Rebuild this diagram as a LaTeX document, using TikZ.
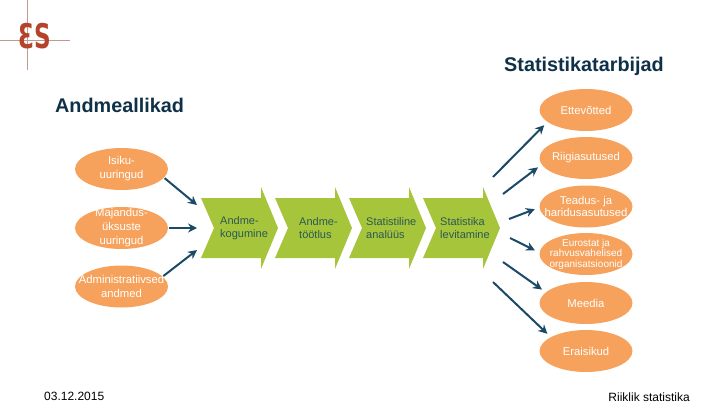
\documentclass[tikz,border=0pt]{standalone}
\usepackage{xcolor}
\usepackage{fontspec}
\usepackage{tikz}
\setmainfont{Liberation Sans}
\newfontfamily\logofont{DejaVu Sans}
\usetikzlibrary{shapes.geometric, arrows.meta, positioning}
\definecolor{peach}{HTML}{F6A25C}
\definecolor{leaf}{HTML}{A6C53B}
\definecolor{inkblue}{HTML}{1B4A66}
\definecolor{headblue}{HTML}{0F3148}
\definecolor{chevtext}{HTML}{2A5A55}
\definecolor{logored}{HTML}{B5432B}
\definecolor{logoline}{HTML}{C09A8C}

\begin{document}
\begin{tikzpicture}[
    x=1pt, y=-1pt,
    oval/.style     = {ellipse, fill=peach, inner sep=0pt, minimum width=93pt, minimum height=42pt},
    srcoval/.style  = {oval, outer sep=1pt},
    useoval/.style  = {oval, outer sep=5pt},
    ovaltxt/.style  = {text=white, align=center, font=\fontsize{11.3}{14}\selectfont, inner sep=0pt},
    smalltxt/.style = {ovaltxt, font=\fontsize{10}{10.5}\selectfont},
    chevtxt/.style  = {anchor=west, text=chevtext, align=left, inner sep=0pt,
                       font=\fontsize{11}{13}\selectfont},
    head/.style     = {inner sep=0pt, anchor=base west, text=headblue,
                       font=\fontsize{19.8}{22}\selectfont\bfseries},
    foot/.style     = {inner sep=0pt, anchor=base west, font=\fontsize{12}{14}\selectfont},
    arr/.style      = {-{Stealth[length=9pt,width=9pt]}, line width=2pt, color=inkblue},
    cross/.style    = {line width=0.8pt, color=logoline},
    chevron/.pic    = {\fill[leaf] (0,-30) -- (60,-30) -- (60,-41) -- (77,0) -- (60,41)
                       -- (60,30) -- (0,30) -- (13,0) -- cycle;}
  ]
  \useasboundingbox (0,0) rectangle (720,405);

  % ── Logo ───────────────────────────────────────────────────────────────────
  \coordinate (crosstop) at (27,0);
  \coordinate (crossbot) at (27,70);
  \coordinate (crossleft) at (0,40);
  \coordinate (crossright) at (70,40);
  \draw[cross] (crosstop) -- (crossbot);
  \draw[cross] (crossleft) -- (crossright);
  \node[inner sep=0pt, text=logored, xscale=0.68, font=\fontsize{34}{34}\selectfont\logofont\bfseries]
    (logo) at (35,36) {ƐS};

  % ── Headings ───────────────────────────────────────────────────────────────
  \node[head] (usershead) at (504,71) {Statistikatarbijad};
  \node[head] (srchead) at (55,112) {Andmeallikad};

  % ── Data sources ───────────────────────────────────────────────────────────
  \node[srcoval, label={[ovaltxt]center:Isiku-\\uuringud}] (isiku) at (121.5,169) {};
  \node[srcoval, label={[ovaltxt]center:Majandus-\\üksuste\\uuringud}] (majandus) at (121.5,228) {};
  \node[srcoval, label={[ovaltxt]center:Administratiivsed\\andmed}] (admin) at (121.5,286.5) {};

  % ── Process chevrons ───────────────────────────────────────────────────────
  \pic at (201,228) {chevron};
  \pic at (275,228) {chevron};
  \pic at (349,228) {chevron};
  \pic at (423,228) {chevron};
  \node[chevtxt] (kogumine) at (220,228) {Andme-\\kogumine};
  \node[chevtxt] (tootlus)  at (299,228) {Andme-\\töötlus};
  \node[chevtxt] (analyys)  at (366,228) {Statistiline\\analüüs};
  \node[chevtxt] (levit)    at (440,228) {Statistika\\levitamine};

  % ── Data users ─────────────────────────────────────────────────────────────
  \node[useoval, label={[ovaltxt]center:Ettevõtted}] (ettev) at (586,110) {};
  \node[useoval, label={[ovaltxt]center:Riigiasutused}] (riik) at (586,158) {};
  \node[useoval, label={[ovaltxt, font=\fontsize{11.3}{12}\selectfont]center:Teadus- ja\\haridusasutused}] (teadus) at (586,206.5) {};
  \node[useoval, label={[smalltxt]center:Eurostat ja\\rahvusvahelised\\organisatsioonid}] (euro) at (586,254) {};
  \node[useoval, label={[ovaltxt]center:Meedia}] (meedia) at (586,303) {};
  \node[useoval, label={[ovaltxt]center:Eraisikud}] (era) at (586,351) {};

  % ── Free arrow ends beside the chevrons ────────────────────────────────────
  \coordinate (inA) at (197,205);
  \coordinate (inB) at (197,228);
  \coordinate (inC) at (197,250);
  \coordinate (outA) at (493,177);
  \coordinate (outB) at (503,194);
  \coordinate (outC) at (509,219);
  \coordinate (outD) at (510,238);
  \coordinate (outE) at (503,262);
  \coordinate (outF) at (493,282);

  % ── Arrows ─────────────────────────────────────────────────────────────────
  \draw[arr] (isiku.-12) -- (inA);
  \draw[arr] (majandus.east) -- (inB);
  \draw[arr] (admin.14) -- (inC);
  \draw[arr] (outA) -- (ettev.200);
  \draw[arr] (outB) -- (riik.191);
  \draw[arr] (outC) -- (teadus.183);
  \draw[arr] (outD) -- (euro.176.5);
  \draw[arr] (outE) -- (meedia.163.5);
  \draw[arr] (outF) -- (era.156);

  % ── Footer ─────────────────────────────────────────────────────────────────
  \node[foot] (date) at (44,400) {03.12.2015};
  \node[foot, anchor=base east] (org) at (690,401) {Riiklik statistika};

\end{tikzpicture}
\end{document}
